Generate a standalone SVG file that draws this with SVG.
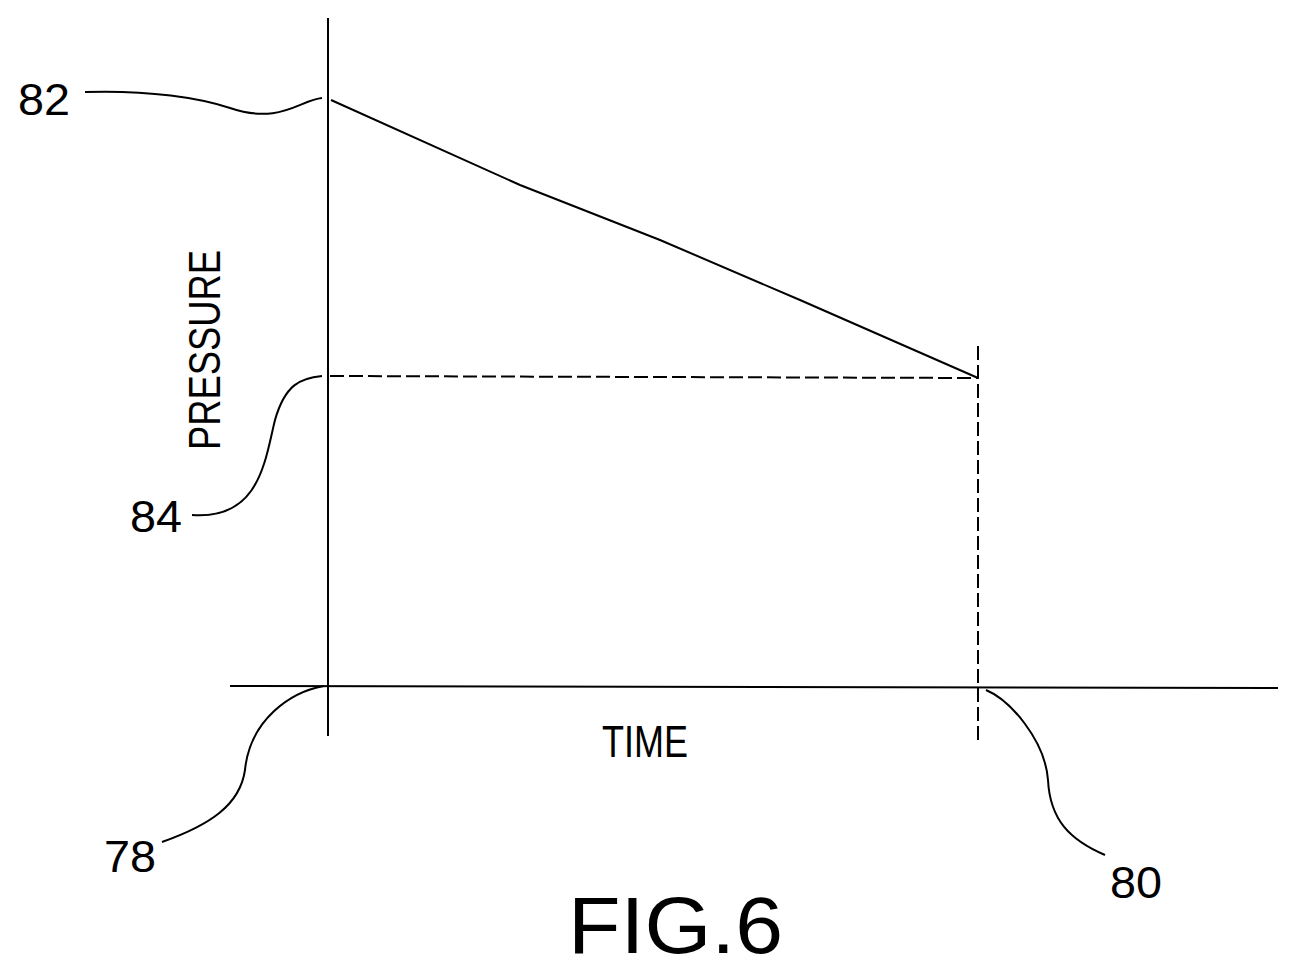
<svg xmlns="http://www.w3.org/2000/svg" width="1297" height="976" viewBox="0 0 1297 976">
<style>
.l{fill:none;stroke:#000;stroke-width:2}
.d{fill:none;stroke:#000;stroke-width:2;stroke-dasharray:14 5}
.t{font-family:"Liberation Sans",Arial,sans-serif;fill:#000}
</style>
<rect width="1297" height="976" fill="#fff"/>
<line class="l" x1="328" y1="18" x2="328" y2="736"/>
<line class="l" x1="230" y1="686" x2="1278" y2="688"/>
<path class="l" d="M331 100 L520 185 L660 240 L800 300 L978 378"/>
<line class="d" x1="330" y1="376" x2="978" y2="378"/>
<line class="d" x1="978" y1="346" x2="978" y2="740"/>
<path class="l" d="M85 92 C150 90 200 98 230 108 C280 125 300 100 322 98"/>
<path class="l" d="M192 515 C260 520 265 460 275 420 C285 385 300 378 322 376"/>
<path class="l" d="M162 842 C210 825 240 805 245 770 C250 720 290 692 324 686"/>
<path class="l" d="M1105 855 C1070 840 1050 820 1048 780 C1045 740 1010 700 986 690"/>
<text class="t" x="18" y="115" font-size="44" textLength="52" lengthAdjust="spacingAndGlyphs">82</text>
<text class="t" x="130" y="532" font-size="44" textLength="52" lengthAdjust="spacingAndGlyphs">84</text>
<text class="t" x="104" y="872" font-size="44" textLength="52" lengthAdjust="spacingAndGlyphs">78</text>
<text class="t" x="1110" y="898" font-size="44" textLength="52" lengthAdjust="spacingAndGlyphs">80</text>
<text class="t" x="602" y="757" font-size="44" textLength="86" lengthAdjust="spacingAndGlyphs">TIME</text>
<text class="t" transform="translate(220,450) rotate(-90)" font-size="44" textLength="200" lengthAdjust="spacingAndGlyphs">PRESSURE</text>
<text class="t" x="568" y="953" font-size="80" textLength="215" lengthAdjust="spacingAndGlyphs">FIG.6</text>
</svg>
